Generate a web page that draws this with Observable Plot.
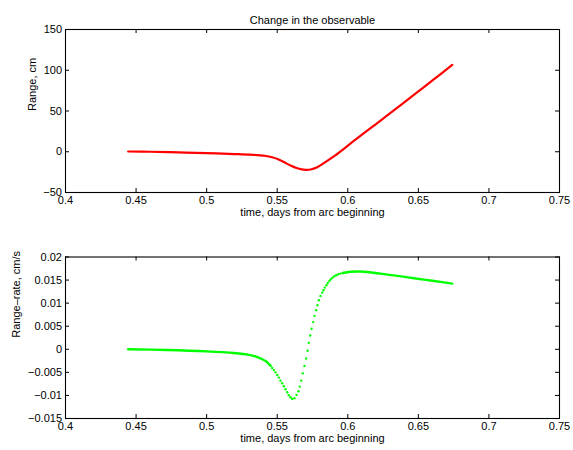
<!DOCTYPE html>
<html><head><meta charset="utf-8">
<script src="https://cdn.jsdelivr.net/npm/d3@7"></script>
<script src="https://cdn.jsdelivr.net/npm/@observablehq/plot@0.6"></script>
<style>body{margin:0;background:#fff;} svg{display:block;}</style>
</head><body><div id="chart"></div>
<script>
const titleText = "Change in the observable";
const xLabel = "time, days from arc beginning";
const rangeLabel = "Range, cm";
const rateLabel = "Range\u2013rate, cm/s";

const xTicks = [0.4, 0.45, 0.5, 0.55, 0.6, 0.65, 0.7, 0.75];
const rangeTicks = [-50, 0, 50, 100, 150];
const rateTicks = [-0.015, -0.01, -0.005, 0, 0.005, 0.01, 0.015, 0.02];

// Range (cm) vs time (days)
const rangeTime  = [0.4444, 0.46, 0.48, 0.50, 0.52, 0.531, 0.541, 0.547, 0.551, 0.5547, 0.5594, 0.5642, 0.570, 0.5736, 0.5783, 0.583, 0.5901, 0.5972, 0.6031, 0.62, 0.64, 0.65, 0.66, 0.674];
const rangeValue = [0.3, 0.0, -0.8, -1.7, -2.8, -3.6, -4.9, -7.0, -9.4, -12.6, -16.9, -20.2, -22.2, -21.8, -19.0, -14.0, -5.8, 3.6, 11.7, 34.0, 60.5, 74.0, 87.5, 106.5];

// Range-rate (cm/s): smooth early part, sparse dotted steep part, smooth late part
const rateTime1  = [0.4444, 0.472, 0.50, 0.5193, 0.53, 0.535, 0.539, 0.542, 0.5452];
const rateValue1 = [0.0, -0.00015, -0.00045, -0.00081, -0.0012, -0.0016, -0.0021, -0.0026, -0.00355];
const rateDotTime  = [0.5452, 0.5464, 0.5476, 0.5488, 0.5500, 0.5511, 0.5523, 0.5535, 0.5547, 0.5559, 0.5571, 0.5582, 0.5594, 0.5606, 0.5622, 0.5637, 0.5651, 0.5660, 0.5670, 0.5681, 0.5693, 0.5705, 0.5715, 0.5724, 0.5734, 0.5743, 0.5755, 0.5764, 0.5776, 0.5785, 0.5795, 0.5807, 0.5819, 0.5828, 0.5837, 0.5849, 0.5858, 0.5870, 0.5880, 0.5892, 0.5904, 0.5918, 0.5932, 0.5948, 0.5965];
const rateDotValue = [-0.00355, -0.00405, -0.00448, -0.00500, -0.00556, -0.00614, -0.00679, -0.00737, -0.00802, -0.00867, -0.00931, -0.00996, -0.0104, -0.01075, -0.0106, -0.00989, -0.0091, -0.00809, -0.00679, -0.00521, -0.00362, -0.00200, -0.00031, 0.00140, 0.0030, 0.00444, 0.00589, 0.00725, 0.00848, 0.00956, 0.01064, 0.01157, 0.01229, 0.0128, 0.01337, 0.01389, 0.01438, 0.01481, 0.01518, 0.01553, 0.01583, 0.01605, 0.01626, 0.01640, 0.01654];
const rateTime2  = [0.5965, 0.6019, 0.609, 0.6232, 0.6468, 0.66, 0.674];
const rateValue2 = [0.01654, 0.01680, 0.01685, 0.01640, 0.01540, 0.01485, 0.01424];

const fmt = d3.format("");
const W = 573, H = 225, ML = 65, MR = 14;

function panel({marginTop, marginBottom, yDomain, yTicks, yLabel, labelDx, dataMarks, title}) {
  const innerH = H - marginTop - marginBottom;
  const innerW = W - ML - MR;
  const marks = [
    Plot.axisX(xTicks, {tickSize: 0, tickPadding: 3.5, tickFormat: fmt, label: null, fontSize: 11}),
    Plot.axisY(yTicks, {tickSize: 0, tickPadding: 3.5, tickFormat: fmt, label: null, fontSize: 11}),
    Plot.tickX(xTicks, {x: d => d, insetTop: innerH - 4, stroke: "black"}),
    Plot.tickX(xTicks, {x: d => d, insetBottom: innerH - 4, stroke: "black"}),
    Plot.tickY(yTicks, {y: d => d, insetLeft: innerW - 4, stroke: "black"}),
    Plot.tickY(yTicks, {y: d => d, insetRight: innerW - 4, stroke: "black"}),
    ...dataMarks,
    Plot.frame({stroke: "black", strokeWidth: 1.1}),
    Plot.text([yLabel], {text: d => d, frameAnchor: "left", dx: labelDx, rotate: -90, fontSize: 11}),
    Plot.text([xLabel], {text: d => d, frameAnchor: "bottom", dy: 23.5, fontSize: 11})
  ];
  if (title) marks.push(Plot.text([title], {text: d => d, frameAnchor: "top", dy: -13.5, fontSize: 11}));
  return Plot.plot({
    width: W, height: H,
    marginLeft: ML, marginRight: MR, marginTop, marginBottom,
    style: {fontFamily: "'Liberation Sans', Arial, sans-serif", fontSize: "11px", color: "black", background: "white", overflow: "visible"},
    x: {domain: [0.4, 0.75]},
    y: {domain: yDomain},
    marks
  });
}

const topPanel = panel({
  marginTop: 29, marginBottom: 33,
  yDomain: [-50, 150], yTicks: rangeTicks, yLabel: rangeLabel, labelDx: -33,
  title: titleText,
  dataMarks: [
    Plot.line(rangeTime, {x: rangeTime, y: rangeValue, stroke: "#ff0000", strokeWidth: 2.2, curve: "catmull-rom"})
  ]
});

const bottomPanel = panel({
  marginTop: 31.5, marginBottom: 32,
  yDomain: [-0.015, 0.02], yTicks: rateTicks, yLabel: rateLabel, labelDx: -49,
  dataMarks: [
    Plot.line(rateTime1, {x: rateTime1, y: rateValue1, stroke: "#00ff00", strokeWidth: 2.4, curve: "catmull-rom"}),
    Plot.dot(rateDotTime, {x: rateDotTime, y: rateDotValue, r: 1.2, fill: "#00ff00"}),
    Plot.line(rateTime2, {x: rateTime2, y: rateValue2, stroke: "#00ff00", strokeWidth: 2.4, curve: "catmull-rom"})
  ]
});

const chart = document.getElementById("chart");
chart.appendChild(topPanel);
chart.appendChild(bottomPanel);
</script>
</body></html>
